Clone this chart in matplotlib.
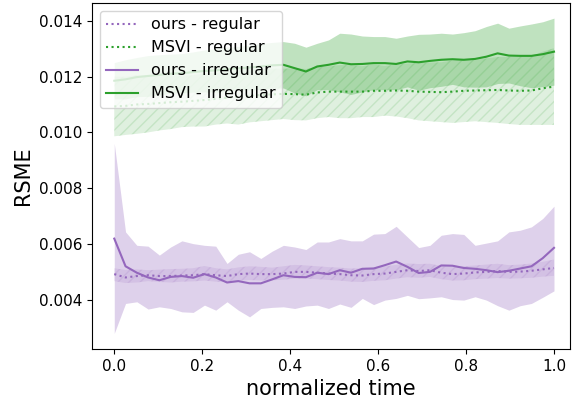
import numpy as np
import matplotlib.pyplot as plt

# normalized time, 40 steps
t = np.linspace(0, 1, 40)

# ours - irregular
oi_mean = [0.00620, 0.00521, 0.00498, 0.00481, 0.00471, 0.00483, 0.00486, 0.00480, 0.00493, 0.00481,
           0.00463, 0.00468, 0.00460, 0.00460, 0.00474, 0.00489, 0.00483, 0.00482, 0.00498, 0.00493,
           0.00507, 0.00498, 0.00512, 0.00513, 0.00525, 0.00538, 0.00519, 0.00497, 0.00501, 0.00524,
           0.00523, 0.00515, 0.00512, 0.00507, 0.00500, 0.00505, 0.00513, 0.00521, 0.00550, 0.00587]
oi_up = [0.00961, 0.00644, 0.00596, 0.00593, 0.00561, 0.00590, 0.00612, 0.00602, 0.00596, 0.00593,
         0.00531, 0.00564, 0.00573, 0.00549, 0.00575, 0.00596, 0.00590, 0.00581, 0.00608, 0.00608,
         0.00620, 0.00612, 0.00612, 0.00636, 0.00638, 0.00664, 0.00626, 0.00588, 0.00596, 0.00632,
         0.00638, 0.00635, 0.00596, 0.00604, 0.00612, 0.00644, 0.00650, 0.00662, 0.00692, 0.00736]
oi_lo = [0.00281, 0.00388, 0.00394, 0.00368, 0.00376, 0.00370, 0.00358, 0.00356, 0.00382, 0.00364,
         0.00394, 0.00364, 0.00340, 0.00370, 0.00374, 0.00376, 0.00370, 0.00379, 0.00382, 0.00370,
         0.00386, 0.00374, 0.00406, 0.00384, 0.00400, 0.00406, 0.00417, 0.00405, 0.00408, 0.00412,
         0.00402, 0.00400, 0.00412, 0.00400, 0.00380, 0.00364, 0.00380, 0.00388, 0.00410, 0.00433]

# ours - regular
or_mean = [0.00493, 0.00481, 0.00486, 0.00489, 0.00486, 0.00486, 0.00488, 0.00489, 0.00493, 0.00489,
           0.00486, 0.00493, 0.00495, 0.00493, 0.00493, 0.00495, 0.00501, 0.00501, 0.00498, 0.00495,
           0.00493, 0.00489, 0.00488, 0.00493, 0.00495, 0.00501, 0.00507, 0.00504, 0.00507, 0.00498,
           0.00493, 0.00495, 0.00499, 0.00501, 0.00504, 0.00501, 0.00502, 0.00505, 0.00510, 0.00515]
or_up = [0.00514, 0.00508, 0.00510, 0.00507, 0.00509, 0.00511, 0.00512, 0.00514, 0.00522, 0.00514,
         0.00510, 0.00517, 0.00521, 0.00519, 0.00516, 0.00521, 0.00526, 0.00524, 0.00521, 0.00518,
         0.00516, 0.00513, 0.00514, 0.00518, 0.00521, 0.00526, 0.00531, 0.00529, 0.00530, 0.00522,
         0.00518, 0.00521, 0.00524, 0.00527, 0.00530, 0.00525, 0.00527, 0.00531, 0.00537, 0.00545]
or_lo = [0.00468, 0.00461, 0.00463, 0.00468, 0.00465, 0.00463, 0.00466, 0.00467, 0.00470, 0.00466,
         0.00464, 0.00470, 0.00472, 0.00470, 0.00471, 0.00473, 0.00477, 0.00477, 0.00475, 0.00472,
         0.00470, 0.00466, 0.00465, 0.00469, 0.00471, 0.00477, 0.00482, 0.00480, 0.00483, 0.00475,
         0.00470, 0.00471, 0.00475, 0.00477, 0.00479, 0.00477, 0.00478, 0.00480, 0.00484, 0.00487]

# MSVI - irregular
mi_mean = [0.01185, 0.01190, 0.01198, 0.01202, 0.01206, 0.01210, 0.01212, 0.01216, 0.01220, 0.01222,
           0.01226, 0.01230, 0.01232, 0.01236, 0.01240, 0.01242, 0.01230, 0.01218, 0.01236, 0.01242,
           0.01250, 0.01244, 0.01245, 0.01248, 0.01248, 0.01245, 0.01254, 0.01251, 0.01256, 0.01260,
           0.01262, 0.01260, 0.01263, 0.01271, 0.01283, 0.01275, 0.01274, 0.01274, 0.01280, 0.01289]
mi_up = [0.01250, 0.01260, 0.01268, 0.01275, 0.01278, 0.01280, 0.01282, 0.01288, 0.01295, 0.01300,
         0.01305, 0.01308, 0.01312, 0.01318, 0.01322, 0.01325, 0.01319, 0.01305, 0.01319, 0.01331,
         0.01355, 0.01352, 0.01345, 0.01343, 0.01343, 0.01337, 0.01345, 0.01351, 0.01352, 0.01355,
         0.01352, 0.01357, 0.01364, 0.01379, 0.01391, 0.01373, 0.01381, 0.01388, 0.01396, 0.01409]
mi_lo = [0.01120, 0.01120, 0.01128, 0.01129, 0.01134, 0.01140, 0.01142, 0.01144, 0.01145, 0.01144,
         0.01147, 0.01152, 0.01152, 0.01154, 0.01158, 0.01159, 0.01141, 0.01131, 0.01153, 0.01153,
         0.01145, 0.01136, 0.01145, 0.01153, 0.01153, 0.01153, 0.01163, 0.01151, 0.01160, 0.01165,
         0.01172, 0.01163, 0.01162, 0.01163, 0.01175, 0.01177, 0.01167, 0.01160, 0.01164, 0.01169]

# MSVI - regular
mr_mean = [0.01093, 0.01095, 0.01100, 0.01102, 0.01105, 0.01108, 0.01110, 0.01113, 0.01116, 0.01120,
           0.01124, 0.01128, 0.01131, 0.01134, 0.01136, 0.01138, 0.01137, 0.01135, 0.01143, 0.01146,
           0.01146, 0.01146, 0.01146, 0.01149, 0.01149, 0.01150, 0.01149, 0.01146, 0.01145, 0.01144,
           0.01146, 0.01149, 0.01150, 0.01151, 0.01152, 0.01150, 0.01149, 0.01150, 0.01158, 0.01164]
mr_up = [0.01200, 0.01199, 0.01205, 0.01204, 0.01203, 0.01204, 0.01201, 0.01205, 0.01211, 0.01212,
         0.01216, 0.01228, 0.01226, 0.01228, 0.01228, 0.01228, 0.01230, 0.01227, 0.01235, 0.01237,
         0.01241, 0.01241, 0.01237, 0.01243, 0.01238, 0.01243, 0.01247, 0.01249, 0.01250, 0.01251,
         0.01258, 0.01261, 0.01260, 0.01265, 0.01270, 0.01270, 0.01271, 0.01273, 0.01289, 0.01301]
mr_lo = [0.00986, 0.00991, 0.00995, 0.01000, 0.01007, 0.01012, 0.01019, 0.01021, 0.01021, 0.01028,
         0.01032, 0.01028, 0.01036, 0.01040, 0.01044, 0.01048, 0.01044, 0.01043, 0.01051, 0.01055,
         0.01051, 0.01051, 0.01055, 0.01055, 0.01060, 0.01057, 0.01051, 0.01043, 0.01040, 0.01037,
         0.01034, 0.01037, 0.01040, 0.01037, 0.01034, 0.01030, 0.01027, 0.01027, 0.01027, 0.01027]

purple = 'tab:purple'
green = 'tab:green'

fig = plt.figure(figsize=(5.72, 3.98), dpi=100)
ax = fig.add_axes([0.1608, 0.1231, 0.8357, 0.8694])

# regular runs: dotted mean + hatched band
ax.plot(t, or_mean, ':', color=purple, lw=1.5, label='ours - regular')
ax.fill_between(t, or_lo, or_up, facecolor=purple, edgecolor=purple, alpha=0.15, hatch='///', linewidth=0)
ax.plot(t, mr_mean, ':', color=green, lw=1.5, label='MSVI - regular')
ax.fill_between(t, mr_lo, mr_up, facecolor=green, edgecolor=green, alpha=0.15, hatch='///', linewidth=0)

# irregular runs: solid mean + plain band
ax.plot(t, oi_mean, '-', color=purple, lw=1.5, label='ours - irregular')
ax.fill_between(t, oi_lo, oi_up, color=purple, alpha=0.3, linewidth=0)
ax.plot(t, mi_mean, '-', color=green, lw=1.5, label='MSVI - irregular')
ax.fill_between(t, mi_lo, mi_up, color=green, alpha=0.3, linewidth=0)

ax.set_xlim(-0.0507, 1.0364)
ax.set_ylim(0.00225, 0.014632)
ax.set_xticks([0.0, 0.2, 0.4, 0.6, 0.8, 1.0])
ax.set_yticks([0.004, 0.006, 0.008, 0.010, 0.012, 0.014])
ax.tick_params(labelsize=11)
ax.set_xlabel('normalized time', fontsize=15)
ax.set_ylabel('RSME', fontsize=15)
ax.legend(loc='upper left', fontsize=11.5)

fig.savefig('out.png', dpi=100)
